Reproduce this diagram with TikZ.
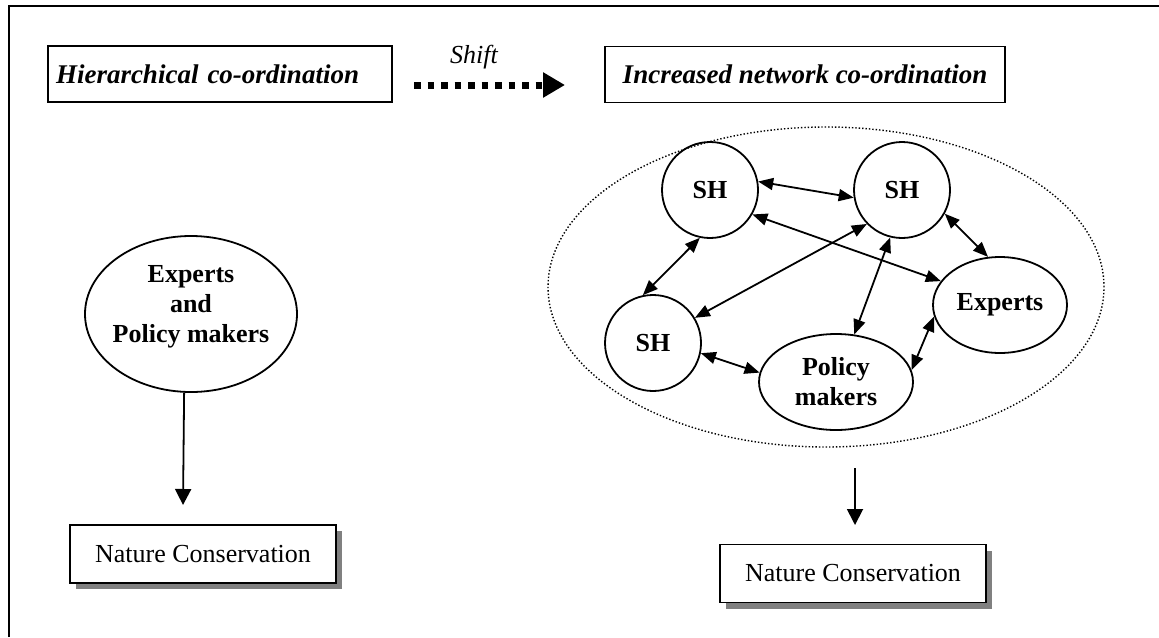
\documentclass[tikz,border=0pt]{standalone}
\usepackage{fontspec}
\setmainfont{Liberation Serif}
\usetikzlibrary{arrows.meta,shapes.geometric,shadows}

\begin{document}
\begin{tikzpicture}[x=0.5pt, y=-0.5pt, font=\fontsize{13}{15}\selectfont,
	headbox/.style={draw, line width=0.9pt, minimum height=28pt, inner xsep=4pt, font=\fontsize{13.5}{15}\selectfont\bfseries\itshape},
	ncbox/.style={draw, line width=0.9pt, fill=white, minimum width=133pt, minimum height=29pt, drop shadow={shadow xshift=3pt, shadow yshift=-3pt, fill=gray, opacity=1}},
	actor/.style={draw, circle, line width=0.9pt, minimum size=48pt, inner sep=0pt, font=\fontsize{13}{15}\selectfont\bfseries},
	oval/.style={draw, ellipse, line width=0.9pt, inner sep=0pt, align=center, font=\fontsize{13}{15}\selectfont\bfseries},
	link/.style={line width=0.9pt, {Triangle[length=7.5pt,width=6pt]}-{Triangle[length=7.5pt,width=6pt]}},
	down/.style={line width=0.9pt, -{Triangle[length=8pt,width=8pt]}}]
	\useasboundingbox (0,0) rectangle (1159,637);
	\draw[line width=1pt] (9,637) |- (1159,6);

	\node[headbox, text width=164pt, align=left] (hier) at (220,74) {Hierarchical co-ordination};
	\node[font=\fontsize{13}{15}\selectfont\itshape] (shift) at (474,57) {Shift};
	\coordinate (sfrom) at (414,85);
	\coordinate (sto) at (565,85);
	\node[headbox, minimum width=200pt] (incr) at (805,74.5) {Increased network co-ordination};

	\node[draw, ellipse, line width=0.7pt, dash pattern=on 0.7pt off 1pt, minimum width=278pt, minimum height=160pt] (net) at (826,287) {};
	\node[actor] (sha) at (710,190) {SH};
	\node[actor] (shb) at (902,190) {SH};
	\node[actor] (shc) at (653,343) {SH};
	\node[oval, minimum width=77pt, minimum height=48pt] (pol) at (836,382) {Policy\\makers};
	\node[oval, minimum width=67pt, minimum height=48pt] (exp) at (1000,305) {Experts};

	\node[oval, inner sep=-2pt, minimum width=106pt, minimum height=78pt] (expol) at (191,314) {Experts\\and\\Policy makers\\[-5pt]\mbox{}};
	\coordinate (lend) at (183,505);
	\node[ncbox] (ncl) at (203,554) {Nature Conservation};

	\coordinate (rtop) at (855,468);
	\coordinate (rend) at (855,525);
	\node[ncbox] (ncr) at (853,573.5) {Nature Conservation};

	\path (sfrom) edge[line width=3.5pt, dash pattern=on 3.25pt off 3.5pt, -{Triangle[length=11pt,width=12pt]}] (sto)
	(sha.10) edge[link] (shb.189)
	(sha.-30) edge[link] (exp.158)
	(sha.258) edge[link] (shc.102)
	(shb.224) edge[link] (shc.31)
	(shb.256) edge[link] (pol.69)
	(shb.-29) edge[link] (exp.104)
	(shc.-12) edge[link] (pol.173)
	(pol.9) edge[link] (exp.190)
	(expol.265) edge[down] (lend)
	(rtop) edge[down] (rend);
\end{tikzpicture}
\end{document}
